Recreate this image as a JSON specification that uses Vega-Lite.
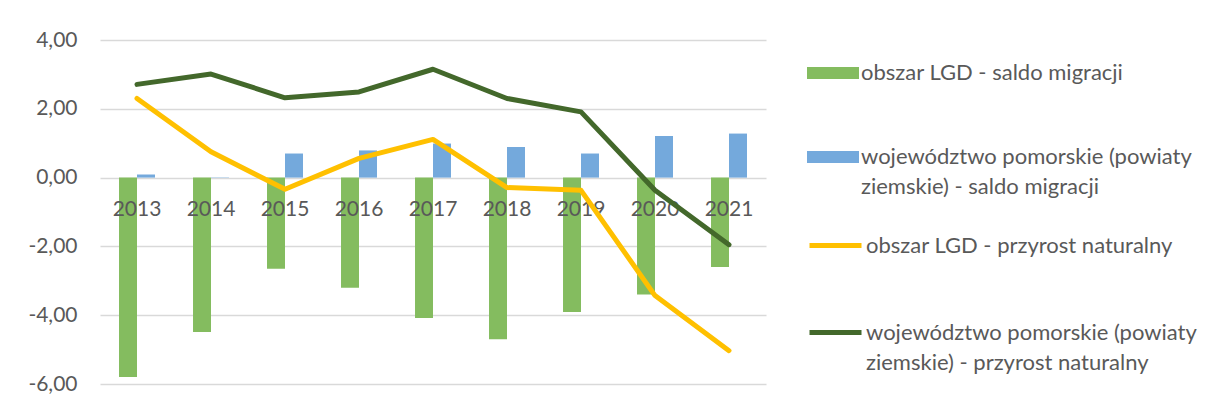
{
  "$schema": "https://vega.github.io/schema/vega-lite/v6.json",
  "autosize": {"type": "none"},
  "width": 666,
  "height": 344,
  "padding": {"left": 100, "top": 40, "right": 446, "bottom": 21},
  "background": "white",
  "config": {
    "view": {"stroke": null},
    "font": "Lato",
    "style": {"guide-label": {"lineHeight": 30}}
  },
  "datasets": {
    "bars": [
      {"rok": "2013", "seria": "obszar LGD - saldo migracji", "wartosc": -5.80},
      {"rok": "2014", "seria": "obszar LGD - saldo migracji", "wartosc": -4.49},
      {"rok": "2015", "seria": "obszar LGD - saldo migracji", "wartosc": -2.65},
      {"rok": "2016", "seria": "obszar LGD - saldo migracji", "wartosc": -3.20},
      {"rok": "2017", "seria": "obszar LGD - saldo migracji", "wartosc": -4.08},
      {"rok": "2018", "seria": "obszar LGD - saldo migracji", "wartosc": -4.70},
      {"rok": "2019", "seria": "obszar LGD - saldo migracji", "wartosc": -3.91},
      {"rok": "2020", "seria": "obszar LGD - saldo migracji", "wartosc": -3.40},
      {"rok": "2021", "seria": "obszar LGD - saldo migracji", "wartosc": -2.60},
      {"rok": "2013", "seria": "województwo pomorskie (powiaty ziemskie) - saldo migracji", "wartosc": 0.09},
      {"rok": "2014", "seria": "województwo pomorskie (powiaty ziemskie) - saldo migracji", "wartosc": 0.01},
      {"rok": "2015", "seria": "województwo pomorskie (powiaty ziemskie) - saldo migracji", "wartosc": 0.70},
      {"rok": "2016", "seria": "województwo pomorskie (powiaty ziemskie) - saldo migracji", "wartosc": 0.79},
      {"rok": "2017", "seria": "województwo pomorskie (powiaty ziemskie) - saldo migracji", "wartosc": 0.99},
      {"rok": "2018", "seria": "województwo pomorskie (powiaty ziemskie) - saldo migracji", "wartosc": 0.89},
      {"rok": "2019", "seria": "województwo pomorskie (powiaty ziemskie) - saldo migracji", "wartosc": 0.70},
      {"rok": "2020", "seria": "województwo pomorskie (powiaty ziemskie) - saldo migracji", "wartosc": 1.21},
      {"rok": "2021", "seria": "województwo pomorskie (powiaty ziemskie) - saldo migracji", "wartosc": 1.28}
    ],
    "lines": [
      {"rok": "2013", "seria": "obszar LGD - przyrost naturalny", "wartosc": 2.30},
      {"rok": "2014", "seria": "obszar LGD - przyrost naturalny", "wartosc": 0.75},
      {"rok": "2015", "seria": "obszar LGD - przyrost naturalny", "wartosc": -0.34},
      {"rok": "2016", "seria": "obszar LGD - przyrost naturalny", "wartosc": 0.56},
      {"rok": "2017", "seria": "obszar LGD - przyrost naturalny", "wartosc": 1.11},
      {"rok": "2018", "seria": "obszar LGD - przyrost naturalny", "wartosc": -0.29},
      {"rok": "2019", "seria": "obszar LGD - przyrost naturalny", "wartosc": -0.37},
      {"rok": "2020", "seria": "obszar LGD - przyrost naturalny", "wartosc": -3.43},
      {"rok": "2021", "seria": "obszar LGD - przyrost naturalny", "wartosc": -5.03},
      {"rok": "2013", "seria": "województwo pomorskie (powiaty ziemskie) - przyrost naturalny", "wartosc": 2.71},
      {"rok": "2014", "seria": "województwo pomorskie (powiaty ziemskie) - przyrost naturalny", "wartosc": 3.01},
      {"rok": "2015", "seria": "województwo pomorskie (powiaty ziemskie) - przyrost naturalny", "wartosc": 2.32},
      {"rok": "2016", "seria": "województwo pomorskie (powiaty ziemskie) - przyrost naturalny", "wartosc": 2.49},
      {"rok": "2017", "seria": "województwo pomorskie (powiaty ziemskie) - przyrost naturalny", "wartosc": 3.15},
      {"rok": "2018", "seria": "województwo pomorskie (powiaty ziemskie) - przyrost naturalny", "wartosc": 2.30},
      {"rok": "2019", "seria": "województwo pomorskie (powiaty ziemskie) - przyrost naturalny", "wartosc": 1.91},
      {"rok": "2020", "seria": "województwo pomorskie (powiaty ziemskie) - przyrost naturalny", "wartosc": -0.37},
      {"rok": "2021", "seria": "województwo pomorskie (powiaty ziemskie) - przyrost naturalny", "wartosc": -1.95}
    ],
    "years": [
      {"rok": "2013"}, {"rok": "2014"}, {"rok": "2015"}, {"rok": "2016"}, {"rok": "2017"},
      {"rok": "2018"}, {"rok": "2019"}, {"rok": "2020"}, {"rok": "2021"}
    ]
  },
  "encoding": {
    "x": {
      "field": "rok", "type": "nominal", "axis": null,
      "scale": {"paddingInner": 0.514, "paddingOuter": 0.257}
    }
  },
  "layer": [
    {
      "data": {"name": "bars"},
      "mark": {"type": "bar"},
      "encoding": {
        "xOffset": {"field": "seria", "type": "nominal", "scale": {"paddingInner": 0}},
        "y": {
          "field": "wartosc", "type": "quantitative",
          "scale": {"domain": [-6, 4], "nice": false, "zero": false},
          "axis": {
            "values": [-6, -4, -2, 0, 2, 4],
            "title": null,
            "domain": false,
            "ticks": false,
            "grid": true,
            "gridColor": "#D9D9D9",
            "gridWidth": 1.3,
            "labelFontSize": 21,
            "labelColor": "#595959",
            "labelPadding": 23,
            "labelExpr": "(datum.value < 0 ? '-' : '') + replace(format(abs(datum.value), '.2f'), '.', ',')"
          }
        },
        "color": {
          "field": "seria", "type": "nominal",
          "scale": {"range": ["#84BC5F", "#74A9DC"]},
          "legend": {
            "title": null,
            "orient": "none",
            "legendX": 707,
            "legendY": 7,
            "direction": "vertical",
            "symbolType": "M-1,-0.23H1V0.23H-1Z",
            "symbolSize": 2704,
            "symbolStrokeWidth": 0,
            "labelFontSize": 22,
            "labelColor": "#595959",
            "labelOffset": 2,
            "labelLimit": 400,
            "rowPadding": 47,
            "labelExpr": "split(replace(datum.label, '(powiaty ', '(powiaty|'), '|')"
          }
        }
      }
    },
    {
      "mark": {"type": "rule", "color": "#BFBFBF", "strokeWidth": 3},
      "encoding": {"y": {"datum": 0}}
    },
    {
      "data": {"name": "years"},
      "mark": {"type": "text", "fontSize": 21, "color": "#595959", "baseline": "middle", "dy": 32},
      "encoding": {"y": {"datum": 0}, "text": {"field": "rok"}}
    },
    {
      "data": {"name": "lines"},
      "mark": {"type": "line", "strokeWidth": 5, "strokeCap": "round", "strokeJoin": "round"},
      "encoding": {
        "y": {"field": "wartosc", "type": "quantitative"},
        "color": {
          "field": "seria", "type": "nominal",
          "scale": {"range": ["#FFC000", "#43682B"]},
          "legend": {
            "title": null,
            "orient": "none",
            "legendX": 707,
            "legendY": 177,
            "direction": "vertical",
            "symbolType": "stroke",
            "symbolSize": 2704,
            "symbolStrokeWidth": 5,
            "labelFontSize": 22,
            "labelColor": "#595959",
            "labelOffset": 2,
            "labelLimit": 400,
            "rowPadding": 47,
            "labelExpr": "split(replace(datum.label, '(powiaty ', '(powiaty|'), '|')"
          }
        }
      }
    }
  ],
  "resolve": {"scale": {"color": "independent"}}
}
